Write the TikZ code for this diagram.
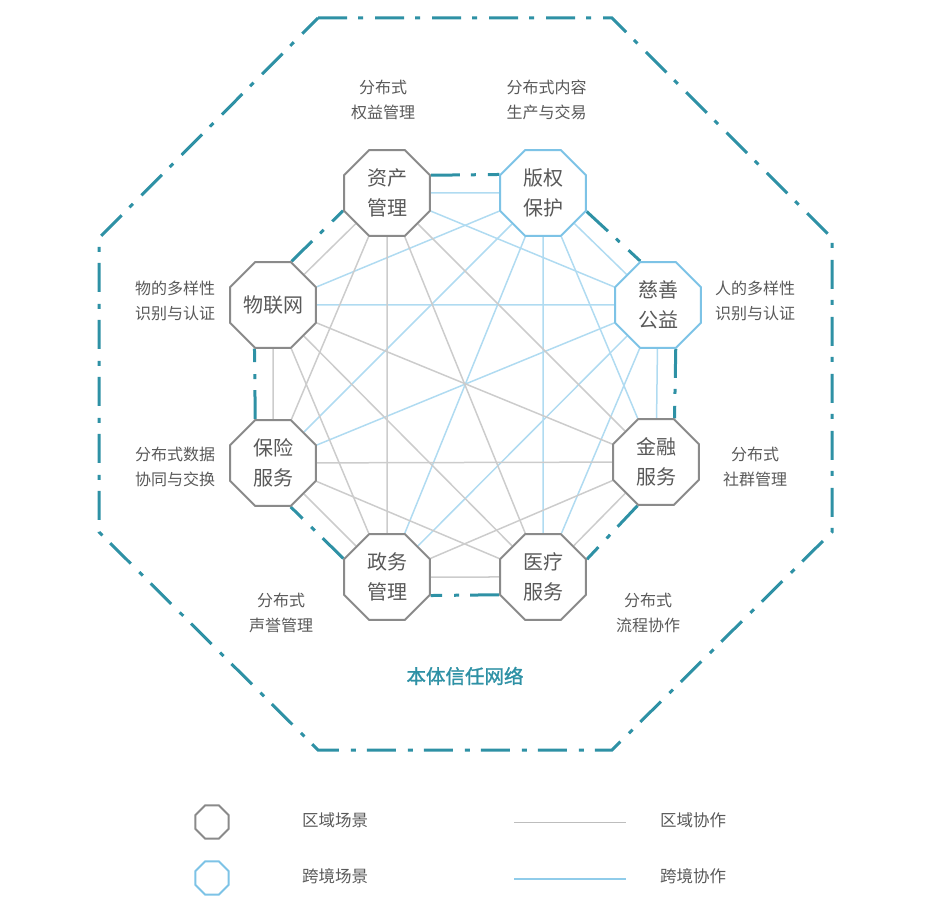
\documentclass[tikz,border=0pt]{standalone}
\usepackage{fontspec}
\setmainfont{Noto Sans CJK SC}
\newfontfamily\titlefont[FakeBold=1.3]{Noto Sans CJK SC}
\usetikzlibrary{shapes.geometric,backgrounds}
\definecolor{teal1}{HTML}{2E91A5}
\definecolor{txt}{HTML}{595959}
\definecolor{gnode}{HTML}{8A8A8A}
\definecolor{bnode}{HTML}{7DC3E6}
\definecolor{gline}{HTML}{CCCCCC}
\definecolor{bline}{HTML}{B0DBF1}
\begin{document}
\begin{tikzpicture}[x=1pt,y=-1pt,
  oct/.style={regular polygon, regular polygon sides=8, minimum size=93pt, inner sep=0pt, fill=white, line width=2pt, text=txt, font=\fontsize{20}{30}\selectfont, align=center},
  goct/.style={oct, draw=gnode},
  boct/.style={oct, draw=bnode},
  gedge/.style={draw=gline, line width=1.5pt},
  bedge/.style={draw=bline, line width=1.5pt},
  ring/.style={draw=teal1, line width=3pt, dash pattern=on 29pt off 11pt on 5pt off 12pt},
  lbl/.style={text=txt, font=\fontsize{16}{25}\selectfont, align=center},
  lgtxt/.style={text=txt, font=\fontsize{16.5}{20}\selectfont, anchor=west, inner sep=0pt},
]
\useasboundingbox (0,0) rectangle (931,901);
% outer octagon
\draw[ring] (318,18) -- (612,18) -- (832,238) -- (832,532) -- (612,750) -- (318,750) -- (99,532) -- (99,238) -- cycle;

% scene nodes
\node[goct] (zc) at (387,193) {资产\\管理};
\node[boct] (bq) at (543,193) {版权\\保护};
\node[boct] (cs) at (658,305) {慈善\\公益};
\node[goct] (jr) at (656,462) {金融\\服务};
\node[goct] (yl) at (543,577) {医疗\\服务};
\node[goct] (zw) at (387,577) {政务\\管理};
\node[goct] (bx) at (273,463) {保险\\服务};
\node[goct] (wl) at (273,305) {物联网};

\begin{scope}[on background layer]
% cross-border collaboration
\foreach \a in {zc,cs,jr,yl,zw,bx,wl} \draw[bedge] (bq) -- (\a);
\foreach \a in {zc,jr,yl,zw,bx,wl} \draw[bedge] (cs) -- (\a);
% regional collaboration
\draw[gedge] (zc) -- (jr);
\draw[gedge] (zc) -- (yl);
\draw[gedge] (zc) -- (zw);
\draw[gedge] (zc) -- (bx);
\draw[gedge] (zc) -- (wl);
\draw[gedge] (jr) -- (yl);
\draw[gedge] (jr) -- (zw);
\draw[gedge] (jr) -- (bx);
\draw[gedge] (jr) -- (wl);
\draw[gedge] (yl) -- (zw);
\draw[gedge] (yl) -- (bx);
\draw[gedge] (yl) -- (wl);
\draw[gedge] (zw) -- (bx);
\draw[gedge] (zw) -- (wl);
\draw[gedge] (bx) -- (wl);
% inner teal ring
\draw[ring] (zc.22.5) -- (bq.157.5);
\draw[ring] (bq.337.5) -- (cs.112.5);
\draw[ring] (cs.292.5) -- (jr.67.5);
\draw[ring] (jr.247.5) -- (yl.22.5);
\draw[ring] (yl.202.5) -- (zw.337.5);
\draw[ring] (zw.157.5) -- (bx.292.5);
\draw[ring] (bx.112.5) -- (wl.247.5);
\draw[ring] (wl.67.5) -- (zc.202.5);
\end{scope}

% labels
\node[lbl] (l1) at (383,99.5) {分布式\\权益管理};
\node[lbl] (l2) at (546.5,99.5) {分布式内容\\生产与交易};
\node[lbl] (l3) at (175,300.5) {物的多样性\\识别与认证};
\node[lbl] (l4) at (755,300.5) {人的多样性\\识别与认证};
\node[lbl] (l5) at (175,466.5) {分布式数据\\协同与交换};
\node[lbl] (l6) at (755,466.5) {分布式\\社群管理};
\node[lbl] (l7) at (281,612.5) {分布式\\声誉管理};
\node[lbl] (l8) at (648,612.5) {分布式\\流程协作};
\node[text=teal1, font=\titlefont\fontsize{19.5}{24}\selectfont] (title) at (465,676) {本体信任网络};

% legend
\node[goct, minimum size=36pt] (lg1) at (212,822) {};
\node[boct, minimum size=36pt] (lg2) at (212,878) {};
\node[lgtxt] (t1) at (302,820) {区域场景};
\node[lgtxt] (t2) at (302,876) {跨境场景};
\coordinate (la1) at (514,822);
\coordinate (lb1) at (626,822);
\coordinate (la2) at (514,878.5);
\coordinate (lb2) at (626,878.5);
\draw[draw=gline!80!gray, line width=1pt] (la1) -- (lb1);
\draw[draw=bnode!85!white, line width=2pt] (la2) -- (lb2);
\node[lgtxt] (t3) at (660,820) {区域协作};
\node[lgtxt] (t4) at (660,876) {跨境协作};
\end{tikzpicture}
\end{document}
